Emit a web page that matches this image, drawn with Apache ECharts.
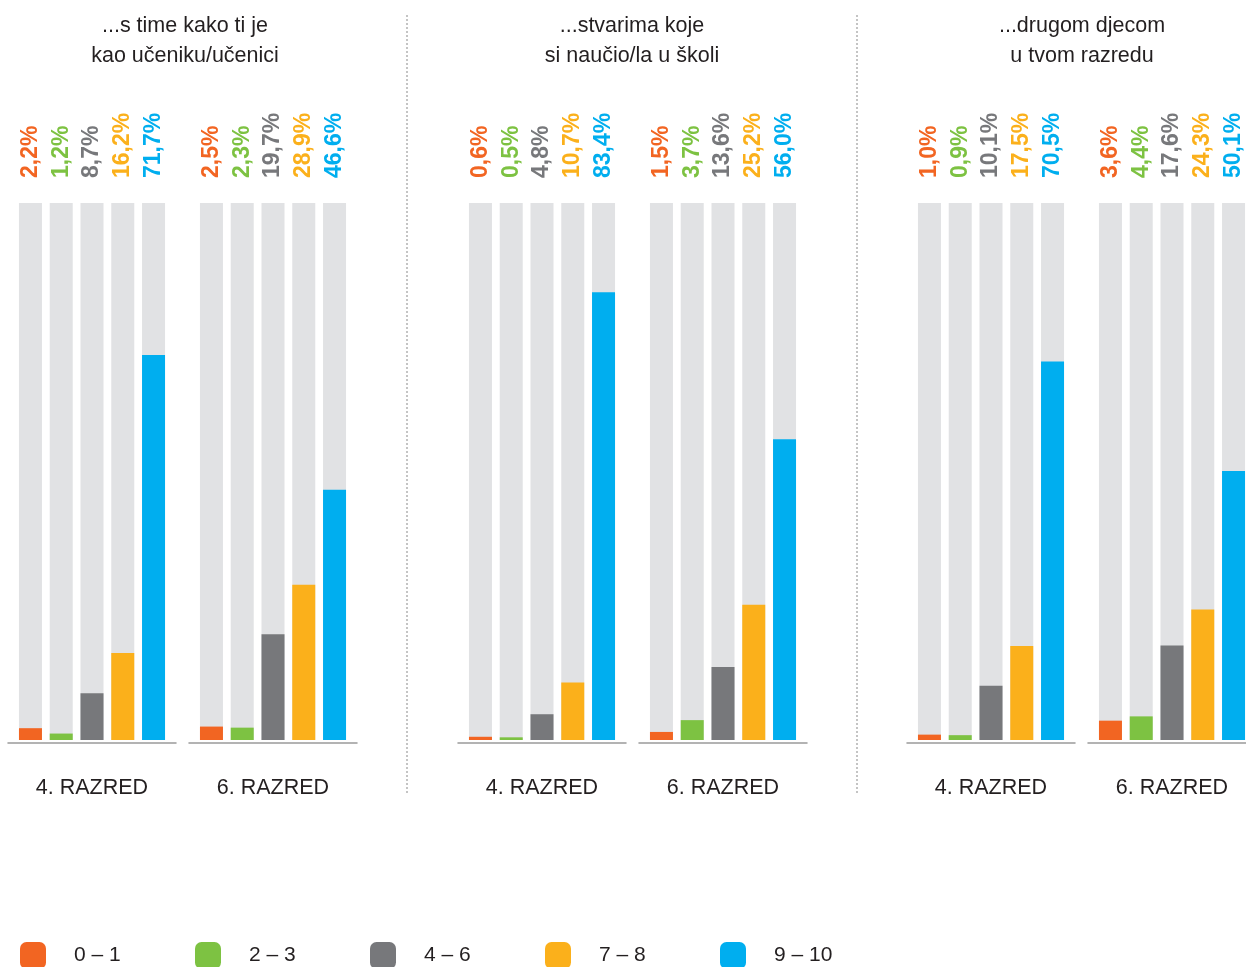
<!DOCTYPE html>
<html><head><meta charset="utf-8">
<script src="https://cdn.jsdelivr.net/npm/echarts@6/dist/echarts.min.js"></script>
<style>html,body{margin:0;padding:0;background:#fff}#c{width:1246px;height:967px}</style>
</head><body><div id="c"></div>
<script>
const panelTitles = ['...s time kako ti je\nkao učeniku/učenici', '...stvarima koje\nsi naučio/la u školi', '...drugom djecom\nu tvom razredu'];
const groupNames = ['4. RAZRED', '6. RAZRED'];
const categories = ['0 – 1', '2 – 3', '4 – 6', '7 – 8', '9 – 10'];
const colors = ['#F26522', '#7DC242', '#77787B', '#FBB01B', '#00AEEF'];
const p1g4 = [2.2, 1.2, 8.7, 16.2, 71.7];
const p1g6 = [2.5, 2.3, 19.7, 28.9, 46.6];
const p2g4 = [0.6, 0.5, 4.8, 10.7, 83.4];
const p2g6 = [1.5, 3.7, 13.6, 25.2, 56.0];
const p3g4 = [1.0, 0.9, 10.1, 17.5, 70.5];
const p3g6 = [3.6, 4.4, 17.6, 24.3, 50.1];
const groups = [p1g4, p1g6, p2g4, p2g6, p3g4, p3g6];

const FONT = 'Liberation Sans, Arial, sans-serif';
const gridLefts = [8, 189, 458, 639, 907, 1088];
const titleCenters = [185, 632, 1082];
const sepX = [407, 857];

const grid = [], xAxis = [], yAxis = [], series = [], title = [], legend = [];
groups.forEach((vals, k) => {
  grid.push({left: gridLefts[k], width: 168, top: 203, height: 537, outerBoundsMode: 'none', containLabel: false});
  xAxis.push({
    type: 'value', gridIndex: k, min: -0.73, max: 4.73,
    axisLabel: {show: false}, splitLine: {show: false}, axisTick: {show: false},
    axisLine: {show: true, onZero: false, lineStyle: {color: '#9A9A9A', width: 1.5}},
    offset: 3,
    name: groupNames[k % 2], nameLocation: 'middle', nameGap: 34,
    nameTextStyle: {fontFamily: FONT, fontSize: 21.5, color: '#231F20'}
  });
  yAxis.push({type: 'value', gridIndex: k, min: 0, max: 100, show: false});
  series.push({
    type: 'bar', name: 'bg', xAxisIndex: k, yAxisIndex: k, barWidth: 23, barGap: '-100%',
    silent: true, z: 1,
    itemStyle: {color: '#E1E2E4'},
    data: vals.map((v, i) => ({
      value: [i, 100],
      label: {color: colors[i]}
    })),
    label: {
      show: true, position: 'top', distance: 25, rotate: 90, align: 'left', verticalAlign: 'middle',
      fontFamily: FONT, fontWeight: 'bold', fontSize: 23,
      formatter: p => vals[p.dataIndex].toFixed(1).replace('.', ',') + '%'
    }
  });
  categories.forEach((c, i) => {
    series.push({
      type: 'bar', name: c, xAxisIndex: k, yAxisIndex: k, barWidth: 23, barGap: '-100%', z: 2,
      itemStyle: {color: colors[i]},
      data: [[i, vals[i]]]
    });
  });
});
panelTitles.forEach((t, p) => {
  title.push({
    text: t, left: titleCenters[p], top: 11, padding: 0, textAlign: 'center',
    textStyle: {fontFamily: FONT, fontSize: 21.5, fontWeight: 'normal', color: '#231F20', lineHeight: 30}
  });
});
categories.forEach((c, i) => {
  legend.push({
    data: [c], left: 20 + i * 175, top: 942, padding: 0,
    icon: 'roundRect', itemWidth: 26, itemHeight: 27, selectedMode: false,
    textStyle: {fontFamily: FONT, fontSize: 21, color: '#231F20', padding: [5, 0, 0, 23]}
  });
});

const chart = echarts.init(document.getElementById('c'));
chart.setOption({
  animation: false,
  title, legend, grid, xAxis, yAxis, series,
  graphic: sepX.map(x => ({
    type: 'line', shape: {x1: x, y1: 15, x2: x, y2: 795},
    style: {stroke: '#8A8A8A', lineWidth: 1, lineDash: [2, 2]}
  }))
});
</script></body></html>
